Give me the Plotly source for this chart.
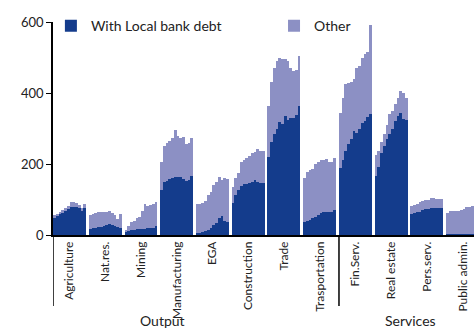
import plotly.graph_objects as go

categories = ["Agriculture", "Nat.res.", "Mining", "Manufacturing", "EGA", "Construction",
              "Trade", "Trasportation", "Fin.Serv.", "Real estate", "Pers.serv.", "Public admin."]
groups = ["Output", "Services"]

# bars per sector (one bar per period), stacked: local bank debt + other
local_debt = [
    [50, 54, 58, 63, 68, 72, 78, 80, 78, 75, 70, 76],
    [18, 19, 20, 22, 23, 25, 28, 30, 27, 25, 22, 20],
    [8, 12, 14, 15, 16, 17, 18, 18, 19, 20, 21, 25],
    [127, 148, 152, 157, 160, 162, 163, 162, 158, 153, 155, 165],
    [5, 6, 8, 10, 15, 20, 28, 35, 47, 54, 40, 38],
    [90, 112, 128, 138, 143, 145, 147, 150, 155, 150, 146, 146],
    [220, 262, 285, 300, 318, 312, 335, 325, 330, 330, 338, 362],
    [36, 40, 43, 47, 52, 56, 62, 65, 65, 66, 66, 70],
    [188, 212, 238, 255, 270, 292, 288, 300, 315, 322, 332, 342],
    [165, 192, 230, 250, 270, 285, 300, 320, 335, 345, 328, 325],
    [60, 62, 64, 66, 70, 72, 74, 76, 76, 76, 75, 76],
    [3, 3, 3, 3, 3, 3, 3, 4, 4, 4, 4, 4],
]
total = [
    [55, 60, 65, 70, 76, 82, 93, 92, 90, 85, 75, 88],
    [57, 60, 63, 64, 65, 66, 65, 67, 62, 55, 45, 58],
    [14, 25, 36, 40, 47, 52, 68, 86, 82, 85, 88, 92],
    [205, 250, 258, 265, 272, 295, 280, 272, 276, 255, 258, 272],
    [87, 88, 90, 95, 113, 122, 140, 150, 163, 155, 160, 158],
    [135, 160, 175, 205, 212, 218, 222, 230, 235, 242, 238, 238],
    [362, 430, 470, 490, 500, 495, 496, 490, 470, 462, 465, 505],
    [160, 178, 182, 185, 200, 205, 210, 212, 215, 205, 207, 218],
    [345, 385, 425, 428, 432, 440, 470, 475, 498, 510, 515, 592],
    [225, 236, 262, 285, 310, 340, 350, 370, 385, 405, 400, 385],
    [82, 85, 88, 92, 95, 98, 100, 105, 103, 102, 102, 102],
    [62, 68, 68, 67, 68, 70, 72, 78, 80, 82, 84, 86],
]

n = len(local_debt[0])
slot = n + 1  # one empty slot between sectors

xs, y_debt, y_other = [], [], []
for g, (d_row, t_row) in enumerate(zip(local_debt, total)):
    for j, (d, t) in enumerate(zip(d_row, t_row)):
        xs.append(g * slot + j)
        y_debt.append(d)
        y_other.append(t - d)

font = "Lato, Arial, sans-serif"
fig = go.Figure()
fig.add_trace(go.Bar(x=xs, y=y_debt, name="With Local bank debt", legend="legend",
                     marker=dict(color="#143C8C", line_width=0), width=1))
fig.add_trace(go.Bar(x=xs, y=y_other, name="Other", legend="legend2",
                     marker=dict(color="#8C90C4", line_width=0), width=1))

tickvals = [g * slot + (n - 1) / 2 for g in range(len(categories))]

leg = dict(orientation="h", xanchor="left", y=0.98, yanchor="middle",
           font=dict(size=14), bgcolor="rgba(0,0,0,0)")
fig.update_layout(
    width=474, height=331,
    margin=dict(l=53, r=0, t=22, b=96, autoexpand=False),
    barmode="stack", bargap=0,
    plot_bgcolor="white", paper_bgcolor="white",
    font=dict(family=font, color="#222", size=12),
    showlegend=True,
    legend=dict(leg, x=-0.005),
    legend2=dict(leg, x=0.525),
    xaxis=dict(range=[-0.5, 152.6], tickvals=tickvals, ticktext=categories,
               tickangle=-90, showline=True, linecolor="black", linewidth=1.5,
               showgrid=False, zeroline=False, ticks="", tickfont=dict(size=12),
               automargin=False),
    yaxis=dict(range=[0, 600], tickvals=[0, 200, 400, 600], showline=True,
               linecolor="black", linewidth=1.5, ticks="outside", ticklen=5,
               tickcolor="black", showgrid=False, zeroline=False,
               tickfont=dict(size=13), automargin=False),
)

# group separators and labels below the axis
for x0 in [-0.5, 8 * slot - 0.5]:
    fig.add_shape(type="line", xref="x", yref="paper", x0=x0, x1=x0, y0=0, y1=-0.333,
                  line=dict(color="black", width=1.5))
for label, xpos in zip(groups, [0.259, 0.848]):
    fig.add_annotation(x=xpos, y=-0.40, xref="paper", yref="paper", text=label,
                       showarrow=False, font=dict(size=14),
                       xanchor="center", yanchor="middle")

# page body has a default 8px margin; drop it so the chart sits at the corner
fig.write_html("out.html", config={"displayModeBar": False},
               post_script="document.body.style.margin='0';")
